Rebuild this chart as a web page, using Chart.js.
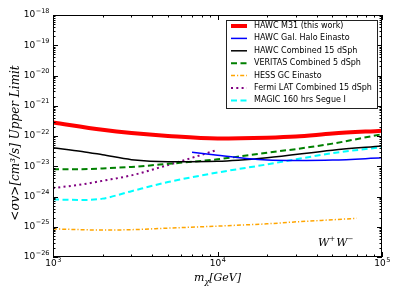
<!DOCTYPE html>
<html>
<head>
<meta charset="utf-8">
<script src="https://cdn.jsdelivr.net/npm/chart.js@4/dist/chart.umd.min.js"></script>
<style>
html, body { margin: 0; padding: 0; background: #fff; }
</style>
</head>
<body>
<canvas id="plot" width="399" height="299"></canvas>
<script>
// W+W- channel: dark matter mass (GeV) vs <sigma v> upper limit (cm^3/s)
var m31Mass = [1000, 2000, 3000, 5000, 10000, 20000, 30000, 50000, 100000];
var m31Limit = [2.8e-22, 1.6e-22, 1.25e-22, 1.0e-22, 8.3e-23, 8.8e-23, 9.6e-23, 1.2e-22, 1.5e-22];

var haloMass = [7000, 10000, 15000, 20000, 30000, 50000, 100000];
var haloLimit = [2.9e-23, 2.3e-23, 1.8e-23, 1.6e-23, 1.55e-23, 1.6e-23, 1.9e-23];

var dsphMass = [1000, 1500, 2000, 3000, 5000, 10000, 20000, 50000, 100000];
var dsphLimit = [4.1e-23, 3.1e-23, 2.4e-23, 1.65e-23, 1.4e-23, 1.45e-23, 1.9e-23, 3.4e-23, 4.7e-23];

var veritasMass = [1000, 1500, 2000, 3000, 5000, 10000, 20000, 30000, 50000, 100000];
var veritasLimit = [8e-24, 8e-24, 8.5e-24, 9.5e-24, 1.2e-23, 1.7e-23, 2.8e-23, 3.7e-23, 5.6e-23, 1.15e-22];

var hessMass = [1000, 2000, 3000, 5000, 10000, 20000, 30000, 50000, 70000];
var hessLimit = [8.5e-26, 7.8e-26, 8e-26, 9e-26, 1.05e-25, 1.25e-25, 1.45e-25, 1.7e-25, 1.9e-25];

var fermiMass = [1000, 1500, 2000, 3000, 5000, 7000, 10000];
var fermiLimit = [1.9e-24, 2.5e-24, 3.3e-24, 5e-24, 1.1e-23, 1.9e-23, 3.5e-23];

var magicMass = [1000, 1500, 2000, 3000, 5000, 10000, 20000, 30000, 50000, 100000];
var magicLimit = [8e-25, 7.7e-25, 8.5e-25, 1.5e-24, 3.0e-24, 6.2e-24, 1.15e-23, 1.7e-23, 2.7e-23, 4.3e-23];

var xDecades = [3, 4, 5];
var yDecades = [-26, -25, -24, -23, -22, -21, -20, -19, -18];

function pts(xs, ys) {
    var out = [];
    for (var i = 0; i < xs.length; i++) out.push({ x: xs[i], y: ys[i] });
    return out;
}

function series(label, xs, ys, color, width, dash) {
    return {
        label: label,
        data: pts(xs, ys),
        borderColor: color,
        backgroundColor: color,
        borderWidth: width,
        borderDash: dash,
        pointRadius: 0,
        fill: false,
        cubicInterpolationMode: 'monotone'
    };
}

var serif = '"DejaVu Serif", serif';
var sans = '"DejaVu Sans", sans-serif';

// draw 10^n with a raised exponent
function drawPow(ctx, x, y, exp, align) {
    var base = '10', sup = String(exp).replace('-', '\u2212');
    ctx.font = '9px ' + sans;
    var wb = ctx.measureText(base).width;
    ctx.font = '6.5px ' + sans;
    var ws = ctx.measureText(sup).width;
    var start = align == 'right' ? x - wb - ws : x - (wb + ws) / 2;
    ctx.textBaseline = 'middle';
    ctx.textAlign = 'left';
    ctx.font = '9px ' + sans;
    ctx.fillText(base, start, y);
    ctx.font = '6.5px ' + sans;
    ctx.fillText(sup, start + wb + 0.5, y - 4);
}

var decor = {
    id: 'decor',
    afterDraw: function (chart) {
        var ctx = chart.ctx, a = chart.chartArea;
        var xs = chart.scales.x, ys = chart.scales.y;
        ctx.save();
        ctx.fillStyle = '#000';
        ctx.strokeStyle = '#000';
        ctx.lineWidth = 1;

        // ticks on all four sides, pointing in
        ctx.beginPath();
        for (var i = 0; i < xDecades.length; i++) {
            for (var k = 1; k <= 9; k++) {
                var v = k * Math.pow(10, xDecades[i]);
                if (v > xs.max * 1.0001) break;
                var px = Math.round(xs.getPixelForValue(v)) + 0.5;
                var len = k == 1 ? 5 : 2.5;
                ctx.moveTo(px, a.bottom); ctx.lineTo(px, a.bottom - len);
                ctx.moveTo(px, a.top); ctx.lineTo(px, a.top + len);
            }
        }
        for (var j = 0; j < yDecades.length; j++) {
            for (var k2 = 1; k2 <= 9; k2++) {
                var vy = k2 * Math.pow(10, yDecades[j]);
                if (vy > ys.max * 1.0001) break;
                var py = Math.round(ys.getPixelForValue(vy)) + 0.5;
                var len2 = k2 == 1 ? 5 : 2.5;
                ctx.moveTo(a.left, py); ctx.lineTo(a.left + len2, py);
                ctx.moveTo(a.right, py); ctx.lineTo(a.right - len2, py);
            }
        }
        ctx.stroke();
        ctx.strokeRect(a.left + 0.5, a.top + 0.5, a.right - a.left - 1, a.bottom - a.top - 1);

        // tick labels
        xDecades.forEach(function (d) {
            drawPow(ctx, xs.getPixelForValue(Math.pow(10, d)), a.bottom + 7, d, 'center');
        });
        yDecades.forEach(function (d) {
            drawPow(ctx, a.left - 4, ys.getPixelForValue(Math.pow(10, d)), d, 'right');
        });

        // axis titles
        ctx.textBaseline = 'alphabetic';
        ctx.textAlign = 'left';
        ctx.font = 'italic 11px ' + serif;
        var mW = ctx.measureText('m').width;
        ctx.font = 'italic 8px ' + serif;
        var chiW = ctx.measureText('\u03c7').width;
        ctx.font = 'italic 11px ' + serif;
        var gevW = ctx.measureText('[GeV]').width;
        var tx = (a.left + a.right) / 2 - (mW + chiW + gevW) / 2;
        ctx.fillText('m', tx, 281);
        ctx.font = 'italic 8px ' + serif;
        ctx.fillText('\u03c7', tx + mW, 284);
        ctx.font = 'italic 11px ' + serif;
        ctx.fillText('[GeV]', tx + mW + chiW, 281);

        ctx.save();
        ctx.translate(19, 143);
        ctx.rotate(-Math.PI / 2);
        ctx.textAlign = 'center';
        ctx.font = 'italic 12px ' + serif;
        ctx.fillText('<\u03c3v>[cm\u00b3/s] Upper Limit', 0, 0);
        ctx.restore();

        // channel note
        ctx.font = 'italic 11px ' + serif;
        ctx.fillText('W', 318, 246);
        var wW = ctx.measureText('W').width;
        ctx.font = '7px ' + serif;
        ctx.fillText('+', 318 + wW, 241);
        ctx.font = 'italic 11px ' + serif;
        ctx.fillText('W', 318 + wW + 7, 246);
        ctx.font = '7px ' + serif;
        ctx.fillText('\u2212', 318 + 2 * wW + 7, 241);

        // legend box
        var bx = 226, by = 20, bw = 151, bh = 88;
        ctx.fillStyle = '#fff';
        ctx.fillRect(bx, by, bw, bh);
        ctx.strokeStyle = '#222';
        ctx.strokeRect(bx + 0.5, by + 0.5, bw, bh);
        ctx.font = '8px ' + sans;
        ctx.textBaseline = 'middle';
        chart.data.datasets.forEach(function (ds, n) {
            var ly = by + 6 + n * 12.4;
            ctx.strokeStyle = ds.borderColor;
            ctx.lineWidth = ds.borderWidth;
            ctx.setLineDash(ds.borderDash || []);
            ctx.beginPath();
            ctx.moveTo(bx + 5, ly);
            ctx.lineTo(bx + 21, ly);
            ctx.stroke();
            ctx.setLineDash([]);
            ctx.fillStyle = '#000';
            ctx.fillText(ds.label, bx + 28, ly);
        });
        ctx.restore();
    }
};

new Chart(document.getElementById('plot'), {
    type: 'line',
    data: {
        datasets: [
            series('HAWC M31 (this work)', m31Mass, m31Limit, '#ff0000', 4, []),
            series('HAWC Gal. Halo Einasto', haloMass, haloLimit, '#0000ff', 1.5, []),
            series('HAWC Combined 15 dSph', dsphMass, dsphLimit, '#000000', 1.5, []),
            series('VERITAS Combined 5 dSph', veritasMass, veritasLimit, '#008000', 2, [6, 3.5]),
            series('HESS GC Einasto', hessMass, hessLimit, '#ffa500', 1.5, [4, 2, 1.2, 2]),
            series('Fermi LAT Combined 15 dSph', fermiMass, fermiLimit, '#800080', 2, [2, 3.3]),
            series('MAGIC 160 hrs Segue I', magicMass, magicLimit, '#00ffff', 2, [6, 3.5])
        ]
    },
    options: {
        responsive: false,
        devicePixelRatio: 1,
        animation: false,
        layout: { padding: { top: 15, right: 17, left: 0, bottom: 0 } },
        plugins: { legend: { display: false }, tooltip: { enabled: false } },
        scales: {
            x: {
                type: 'logarithmic', min: 1000, max: 100000,
                ticks: { display: false }, grid: { display: false }, border: { display: false },
                afterFit: function (s) { s.height = 42; }
            },
            y: {
                type: 'logarithmic', min: 1e-26, max: 1e-18,
                ticks: { display: false }, grid: { display: false }, border: { display: false },
                afterFit: function (s) { s.width = 53; }
            }
        }
    },
    plugins: [decor]
});
</script>
</body>
</html>
